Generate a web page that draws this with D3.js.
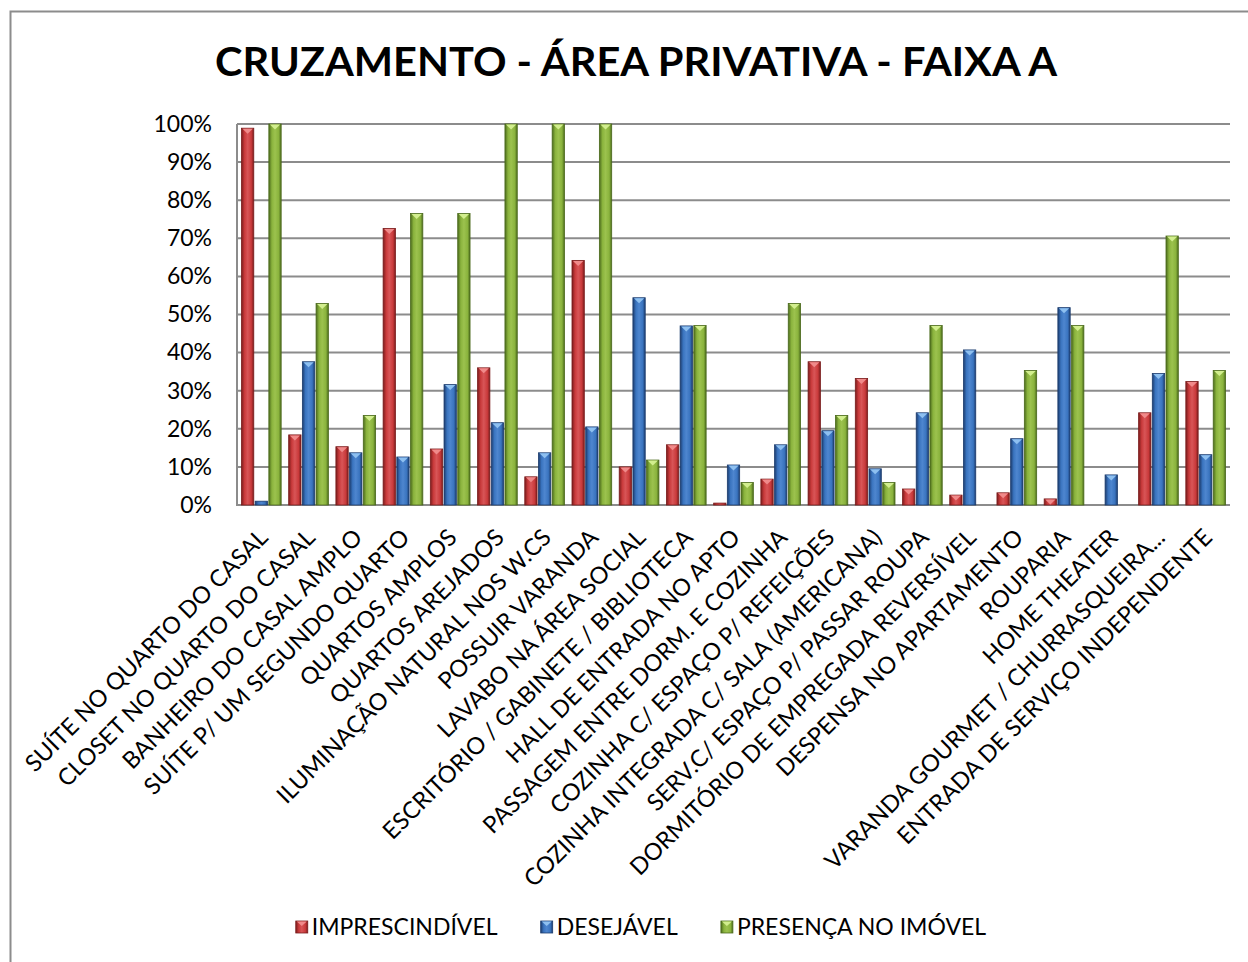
<!DOCTYPE html>
<html>
<head>
<meta charset="utf-8">
<script src="https://cdn.jsdelivr.net/npm/d3@7"></script>
<style>
  body { margin: 0; background: #fff; }
  svg { display: block; font-family: Lato, "Open Sans", sans-serif; }
</style>
</head>
<body>
<svg id="chart"></svg>
<script>
// data (fractions)
const categories = [
  "SUÍTE NO QUARTO DO CASAL", "CLOSET NO QUARTO DO CASAL", "BANHEIRO DO CASAL AMPLO",
  "SUÍTE P/ UM SEGUNDO QUARTO", "QUARTOS AMPLOS", "QUARTOS AREJADOS",
  "ILUMINAÇÃO NATURAL NOS W.CS", "POSSUIR VARANDA", "LAVABO NA ÁREA SOCIAL",
  "ESCRITÓRIO / GABINETE / BIBLIOTECA", "HALL DE ENTRADA NO APTO", "PASSAGEM ENTRE DORM. E COZINHA",
  "COZINHA C/ ESPAÇO P/ REFEIÇÕES", "COZINHA INTEGRADA C/ SALA (AMERICANA)", "SERV.C/ ESPAÇO P/ PASSAR ROUPA",
  "DORMITÓRIO DE EMPREGADA REVERSÍVEL", "DESPENSA NO APARTAMENTO", "ROUPARIA",
  "HOME THEATER", "VARANDA GOURMET / CHURRASQUEIRA...", "ENTRADA DE SERVIÇO INDEPENDENTE"
];
const seriesNames = ["IMPRESCINDÍVEL", "DESEJÁVEL", "PRESENÇA NO IMÓVEL"];
const imprescindivel = [0.989, 0.184, 0.153, 0.726, 0.147, 0.360, 0.074, 0.642, 0.100, 0.158, 0.005, 0.068, 0.376, 0.332, 0.042, 0.026, 0.032, 0.016, 0, 0.242, 0.324];
const desejavel = [0.010, 0.376, 0.137, 0.126, 0.316, 0.216, 0.137, 0.205, 0.544, 0.470, 0.105, 0.158, 0.195, 0.095, 0.242, 0.407, 0.174, 0.518, 0.079, 0.345, 0.132];
const presenca = [1.0, 0.529, 0.235, 0.765, 0.765, 1.0, 1.0, 1.0, 0.118, 0.471, 0.059, 0.529, 0.235, 0.059, 0.471, 0, 0.353, 0.471, 0, 0.706, 0.353];
const yTicks = [0, 0.1, 0.2, 0.3, 0.4, 0.5, 0.6, 0.7, 0.8, 0.9, 1.0];
const chartTitle = "CRUZAMENTO - ÁREA PRIVATIVA - FAIXA A";

class GroupedBarChart {

  constructor(_config) {
    this.config = {
      parentElement: _config.parentElement,
      containerWidth: _config.containerWidth || 1248,
      containerHeight: _config.containerHeight || 962,
      margin: _config.margin || {top: 124, right: 18, bottom: 457, left: 237}
    };
    this.initVis();
  }

  initVis() {
    let vis = this;

    vis.width = vis.config.containerWidth - vis.config.margin.left - vis.config.margin.right;
    vis.height = vis.config.containerHeight - vis.config.margin.top - vis.config.margin.bottom;

    vis.svg = d3.select(vis.config.parentElement)
        .attr('width', vis.config.containerWidth)
        .attr('height', vis.config.containerHeight);

    // outer frame of the chart object
    vis.svg.append('rect')
        .attr('x', 10.5).attr('y', 11.5)
        .attr('width', 1300).attr('height', 1000)
        .attr('fill', 'none')
        .attr('stroke', '#8c8c8c')
        .attr('stroke-width', 2);

    vis.colors = [
      {dark: '#7a1c1c', mid: '#c93a3b', light: '#d85557', cap: '#f08a8a'},
      {dark: '#1c3c6e', mid: '#3a74bf', light: '#4e86cf', cap: '#8ec0f0'},
      {dark: '#4b6a1c', mid: '#8ab33d', light: '#9cc24e', cap: '#d2ee8e'}
    ];

    let defs = vis.svg.append('defs');
    vis.colors.forEach((c, i) => {
      let g = defs.append('linearGradient')
          .attr('id', 'grad' + i)
          .attr('x1', 0).attr('x2', 1).attr('y1', 0).attr('y2', 0);
      g.append('stop').attr('offset', '0%').attr('stop-color', c.dark);
      g.append('stop').attr('offset', '25%').attr('stop-color', c.mid);
      g.append('stop').attr('offset', '50%').attr('stop-color', c.light);
      g.append('stop').attr('offset', '80%').attr('stop-color', c.mid);
      g.append('stop').attr('offset', '100%').attr('stop-color', c.dark);
    });

    vis.chart = vis.svg.append('g')
        .attr('transform', `translate(${vis.config.margin.left},${vis.config.margin.top})`);

    vis.xScale = d3.scaleBand()
        .domain(categories)
        .range([0, vis.width])
        .paddingInner(0.13)
        .paddingOuter(0.08);

    vis.xSub = d3.scaleBand()
        .domain(d3.range(3))
        .range([0, vis.xScale.bandwidth()])
        .paddingInner(0.1)
        .paddingOuter(0.05);

    vis.yScale = d3.scaleLinear()
        .domain([0, 1])
        .range([vis.height, 0]);

    // title
    vis.svg.append('text')
        .attr('x', 636)
        .attr('y', 76)
        .attr('text-anchor', 'middle')
        .attr('font-size', '40px')
        .attr('font-weight', 'bold')
        .attr('textLength', 842)
        .attr('lengthAdjust', 'spacingAndGlyphs')
        .text(chartTitle);

    vis.updateVis();
  }

  updateVis() {
    let vis = this;
    const series = [imprescindivel, desejavel, presenca];

    // gridlines
    vis.chart.append('g')
        .selectAll('line')
        .data(yTicks)
        .join('line')
        .attr('x1', 0)
        .attr('x2', vis.width)
        .attr('y1', d => vis.yScale(d))
        .attr('y2', d => vis.yScale(d))
        .attr('stroke', '#8c8c8c')
        .attr('stroke-width', 2);

    vis.chart.append('line')
        .attr('x1', 0).attr('x2', 0)
        .attr('y1', 0).attr('y2', vis.height + 1)
        .attr('stroke', '#8c8c8c')
        .attr('stroke-width', 2);

    // y axis labels
    vis.yAxisG = vis.chart.append('g')
        .call(d3.axisLeft(vis.yScale).tickValues(yTicks).tickFormat(d3.format('.0%')).tickSize(0).tickPadding(25));
    vis.yAxisG.select('.domain').remove();
    vis.yAxisG.selectAll('text')
        .attr('font-family', 'Lato, sans-serif')
        .attr('font-size', '23px')
        .attr('fill', '#000');

    // bars
    const groups = vis.chart.append('g')
        .selectAll('g')
        .data(categories)
        .join('g')
        .attr('transform', d => `translate(${vis.xScale(d)},0)`);

    const bars = groups.selectAll('g.bar')
        .data((d, ci) => series.map((s, si) => ({si: si, v: s[ci]})).filter(b => b.v > 0))
        .join('g')
        .attr('class', 'bar');

    const bw = vis.xSub.bandwidth();
    bars.append('rect')
        .attr('x', d => vis.xSub(d.si))
        .attr('y', d => vis.yScale(d.v))
        .attr('width', bw)
        .attr('height', d => vis.height - vis.yScale(d.v))
        .attr('fill', d => `url(#grad${d.si})`)
        .attr('stroke', d => vis.colors[d.si].dark)
        .attr('stroke-width', 0.8);

    bars.filter(d => vis.height - vis.yScale(d.v) > 5)
        .append('path')
        .attr('d', d => {
          let x0 = vis.xSub(d.si) + 1, y0 = vis.yScale(d.v) + 0.5;
          return `M${x0},${y0}L${x0 + bw - 2},${y0}L${x0 + (bw - 2) / 2},${y0 + 5}Z`;
        })
        .attr('fill', d => vis.colors[d.si].cap);

    // category labels
    vis.chart.append('g')
        .selectAll('text')
        .data(categories)
        .join('text')
        .attr('transform', d => `translate(${vis.xScale(d) + vis.xScale.bandwidth() / 2 + 8},${vis.height + 34}) rotate(-45)`)
        .attr('text-anchor', 'end')
        .attr('font-size', '23.5px')
        .attr('fill', '#000')
        .text(d => d);

    // legend
    const legend = vis.svg.append('g').attr('transform', 'translate(0,927)');
    let xPos = 0;
    const items = legend.selectAll('g')
        .data(seriesNames)
        .join('g');
    items.append('rect')
        .attr('y', -6).attr('width', 12).attr('height', 12)
        .attr('fill', (d, i) => `url(#grad${i})`)
        .attr('stroke', (d, i) => vis.colors[i].dark)
        .attr('stroke-width', 0.8);
    items.append('path')
        .attr('d', 'M1,-5.5L11,-5.5L6,-1Z')
        .attr('fill', (d, i) => vis.colors[i].cap);
    items.append('text')
        .attr('x', 16)
        .attr('dy', '0.36em')
        .attr('font-size', '23px')
        .attr('fill', '#000')
        .text(d => d);
    items.each(function() {
      d3.select(this).attr('transform', `translate(${xPos},0)`);
      xPos += this.getBBox().width + 43;
    });
    const total = xPos - 43;
    legend.attr('transform', `translate(${641 - total / 2},927)`);
  }
}

new GroupedBarChart({parentElement: '#chart'});
</script>
</body>
</html>
